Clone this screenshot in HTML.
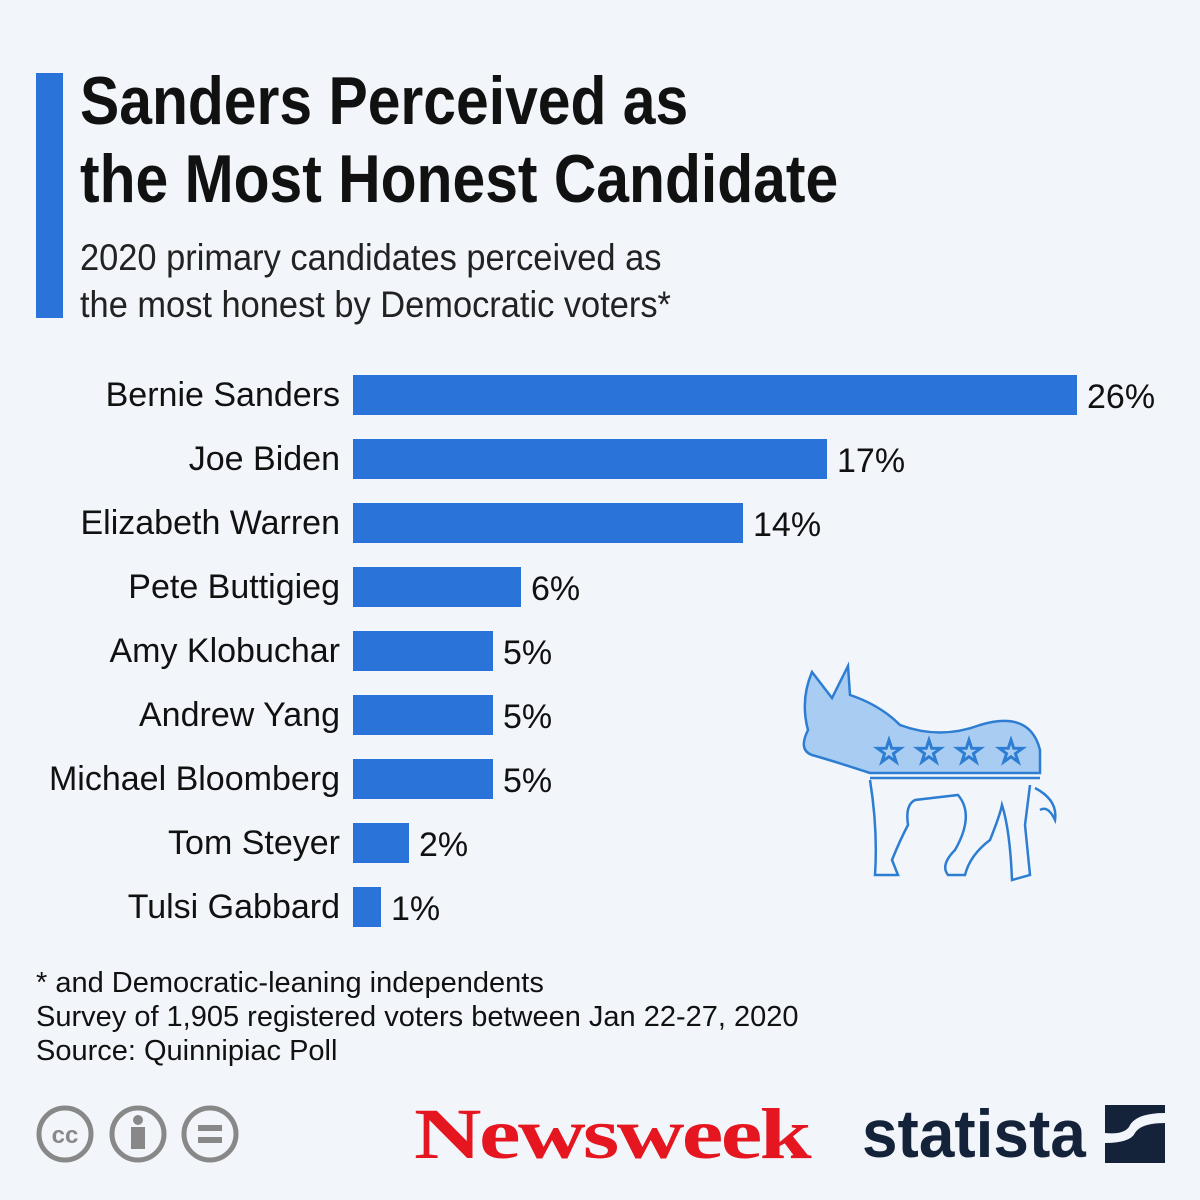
<!DOCTYPE html>
<html><head><meta charset="utf-8"><style>
body{margin:0;width:1200px;height:1200px;background:#f2f6fa;position:relative;overflow:hidden;font-family:"Liberation Sans",sans-serif;color:#111}
.t{position:absolute;left:80px;font-weight:bold;font-size:68px;line-height:78px;top:62px;white-space:nowrap;transform:scaleX(0.865);transform-origin:0 0}
.s{position:absolute;left:80px;top:234px;font-size:37px;line-height:47px;color:#222;white-space:nowrap;transform:scaleX(0.93);transform-origin:0 0}
.lab{position:absolute;right:860px;font-size:34px;line-height:40px;white-space:nowrap}
.bar{position:absolute;left:353px;height:40px;background:#2a73d9}
.val{position:absolute;font-size:34px;line-height:40px}
.f{position:absolute;left:36px;top:966px;font-size:29px;line-height:34px;color:#111;white-space:nowrap}
</style></head><body>
<div style="position:absolute;left:36px;top:73px;width:27px;height:245px;background:#2a73d9"></div>
<div class="t">Sanders Perceived as<br>the Most Honest Candidate</div>
<div class="s">2020 primary candidates perceived as<br>the most honest by Democratic voters*</div>

<div class="lab" style="top:375px">Bernie Sanders</div><div class="bar" style="top:375px;width:724px"></div><div class="val" style="top:377px;left:1087px">26%</div>
<div class="lab" style="top:439px">Joe Biden</div><div class="bar" style="top:439px;width:474px"></div><div class="val" style="top:441px;left:837px">17%</div>
<div class="lab" style="top:503px">Elizabeth Warren</div><div class="bar" style="top:503px;width:390px"></div><div class="val" style="top:505px;left:753px">14%</div>
<div class="lab" style="top:567px">Pete Buttigieg</div><div class="bar" style="top:567px;width:168px"></div><div class="val" style="top:569px;left:531px">6%</div>
<div class="lab" style="top:631px">Amy Klobuchar</div><div class="bar" style="top:631px;width:140px"></div><div class="val" style="top:633px;left:503px">5%</div>
<div class="lab" style="top:695px">Andrew Yang</div><div class="bar" style="top:695px;width:140px"></div><div class="val" style="top:697px;left:503px">5%</div>
<div class="lab" style="top:759px">Michael Bloomberg</div><div class="bar" style="top:759px;width:140px"></div><div class="val" style="top:761px;left:503px">5%</div>
<div class="lab" style="top:823px">Tom Steyer</div><div class="bar" style="top:823px;width:56px"></div><div class="val" style="top:825px;left:419px">2%</div>
<div class="lab" style="top:887px">Tulsi Gabbard</div><div class="bar" style="top:887px;width:28px"></div><div class="val" style="top:889px;left:391px">1%</div>

<svg style="position:absolute;left:790px;top:650px" width="280" height="240" viewBox="0 0 280 240">
<path d="M22 22 L42 48 L58 16 L60 45 Q90 55 110 75 Q150 90 190 75 Q240 60 250 100 L250 123 L80 123 Q40 110 22 105 Q8 100 18 80 Q10 50 22 22Z" fill="#a9cdf2" stroke="#2d7dd2" stroke-width="2.5"/>
<path d="M80 128 L250 128 M80 130 Q88 180 85 225 L108 225 L102 210 Q110 190 118 175 Q115 155 125 150 L168 145 Q185 165 165 200 Q150 215 158 225 L175 225 Q180 205 200 190 Q210 165 212 155 Q220 180 222 230 L240 225 L235 175 L240 135 M245 138 Q268 150 265 170 Q258 155 250 160" fill="none" stroke="#2d7dd2" stroke-width="2.5"/>
<g fill="#fff" stroke="#2d7dd2" stroke-width="2" font-size="34" text-anchor="middle">
<text x="99" y="113">☆</text><text x="139" y="113">☆</text><text x="179" y="113">☆</text><text x="221" y="113">☆</text></g>
</svg>

<div class="f">* and Democratic-leaning independents<br>Survey of 1,905 registered voters between Jan 22-27, 2020<br>Source: Quinnipiac Poll</div>

<svg style="position:absolute;left:34px;top:1105px" width="210" height="60">
<g fill="none" stroke="#888" stroke-width="5"><circle cx="31" cy="29" r="26"/><circle cx="104" cy="29" r="26"/><circle cx="176" cy="29" r="26"/></g>
<text x="31" y="38" font-size="24" font-weight="bold" fill="#888" text-anchor="middle" font-family="Liberation Sans">cc</text>
<circle cx="104" cy="15" r="5" fill="#888"/><rect x="97" y="22" width="14" height="22" fill="#888"/>
<rect x="164" y="20" width="24" height="6" fill="#888"/><rect x="164" y="32" width="24" height="6" fill="#888"/>
</svg>
<div style="position:absolute;left:414px;top:1094px;font-family:'Liberation Serif',serif;font-weight:bold;font-size:72px;color:#e5161f;letter-spacing:-2px;line-height:80px;transform:scaleX(1.3);transform-origin:0 0">Newsweek</div>
<div style="position:absolute;left:862px;top:1094px;font-weight:bold;font-size:68px;color:#14233a;line-height:80px;transform:scaleX(0.94);transform-origin:0 0">statista</div>
<svg style="position:absolute;left:1105px;top:1105px" width="60" height="58"><rect width="60" height="58" fill="#14233a"/><path d="M0 38 Q25 38 30 28 Q36 18 60 18 L60 8 Q30 8 24 22 Q18 30 0 28Z" fill="#f2f6fa"/></svg>
</body></html>
